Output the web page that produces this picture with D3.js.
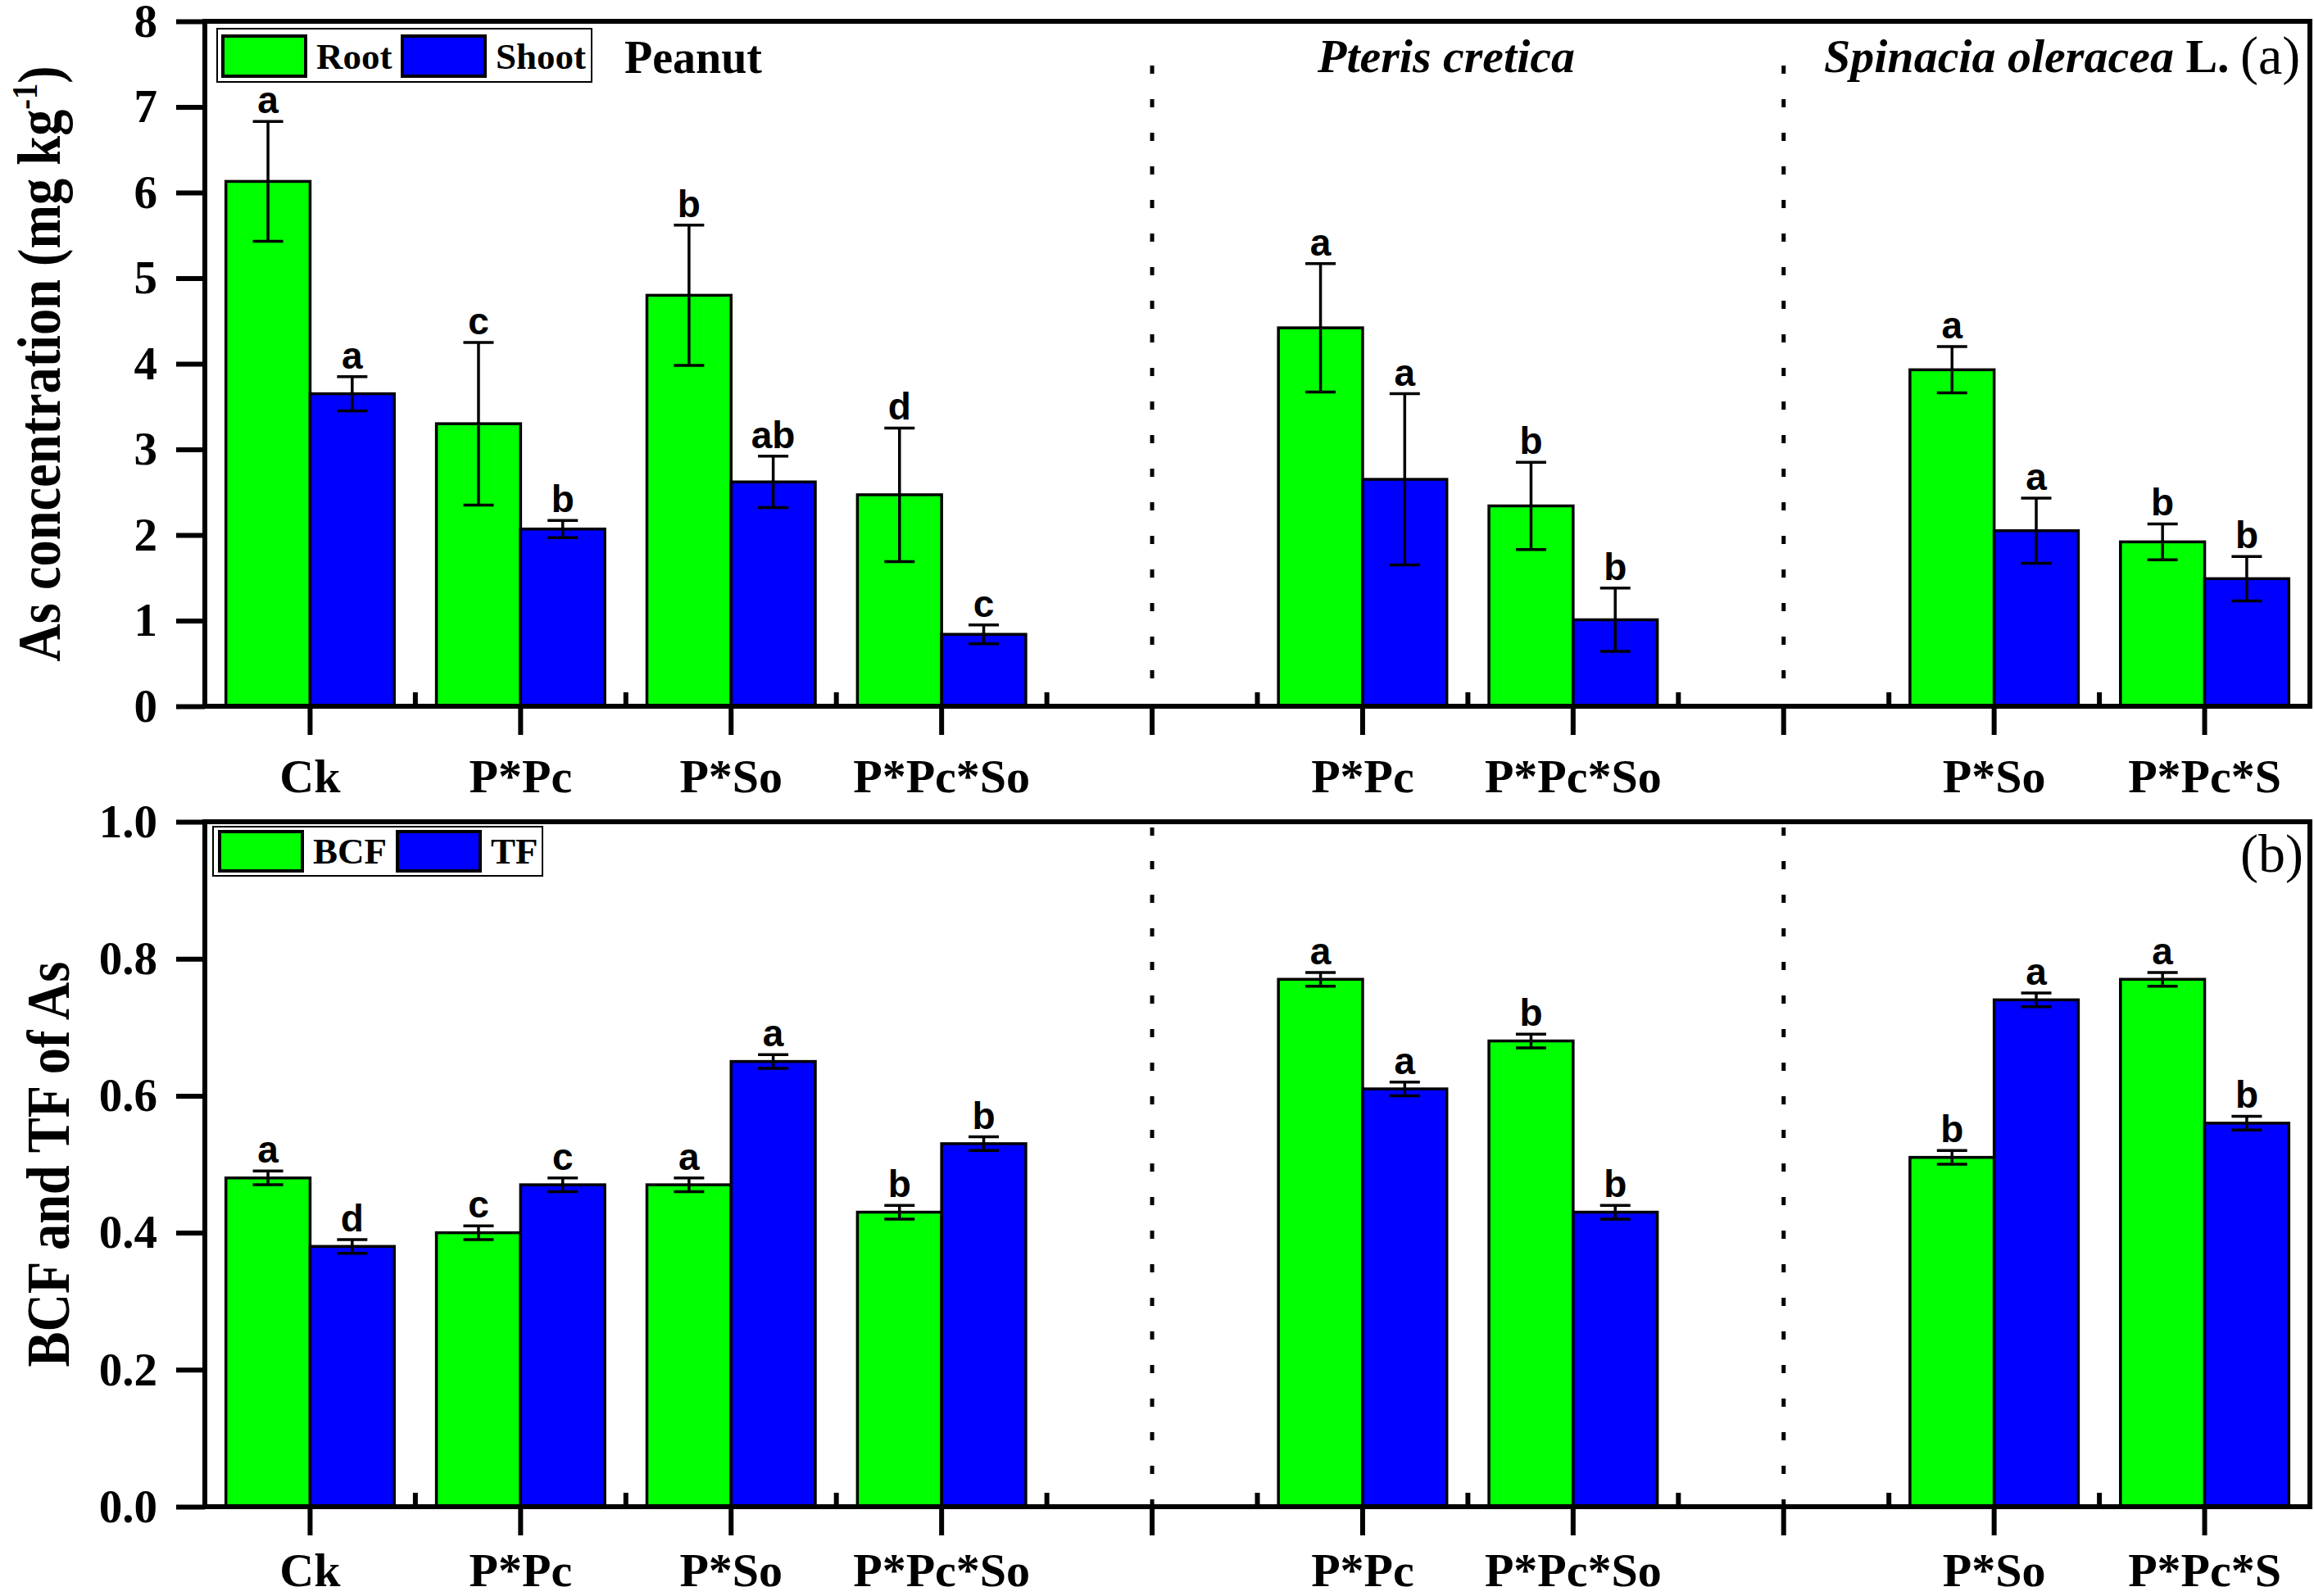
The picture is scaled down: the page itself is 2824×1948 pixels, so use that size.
<!DOCTYPE html>
<meta charset="utf-8">
<head>
  <title>As concentration, BCF and TF</title>
  <script src="https://cdn.jsdelivr.net/npm/d3@7"></script>
  <style>
    body { margin: 0; background: #fff; }
    text { font-family: "Liberation Serif", "Times New Roman", serif; font-weight: bold; fill: #000; }
    .sig { font-family: "Liberation Sans", Arial, sans-serif; font-size: 46px; }
    .plain { font-weight: normal; }
  </style>
</head>
<body>
<div id="chart"></div>
<script>
// x categories (blank slots hold the dotted dividers)
var xLabels = ["Ck", "P*Pc", "P*So", "P*Pc*So", "", "P*Pc", "P*Pc*So", "", "P*So", "P*Pc*S"];

// panel (a): As concentration
var rootVal   = [6.13, 3.30, 4.80, 2.47, null, 4.42, 2.34, null, 3.93, 1.92];
var rootErr   = [0.70, 0.95, 0.82, 0.78, null, 0.75, 0.51, null, 0.27, 0.21];
var rootSig   = ["a", "c", "b", "d", null, "a", "b", null, "a", "b"];
var shootVal  = [3.65, 2.07, 2.62, 0.84, null, 2.65, 1.01, null, 2.05, 1.49];
var shootErr  = [0.20, 0.10, 0.30, 0.11, null, 1.00, 0.37, null, 0.38, 0.26];
var shootSig  = ["a", "b", "ab", "c", null, "a", "b", null, "a", "b"];

// panel (b): BCF and TF
var bcfVal = [0.48, 0.40, 0.47, 0.43, null, 0.77, 0.68, null, 0.51, 0.77];
var bcfErr = [0.01, 0.01, 0.01, 0.01, null, 0.01, 0.01, null, 0.01, 0.01];
var bcfSig = ["a", "c", "a", "b", null, "a", "b", null, "b", "a"];
var tfVal  = [0.38, 0.47, 0.65, 0.53, null, 0.61, 0.43, null, 0.74, 0.56];
var tfErr  = [0.01, 0.01, 0.01, 0.01, null, 0.01, 0.01, null, 0.01, 0.01];
var tfSig  = ["d", "c", "a", "b", null, "a", "b", null, "a", "b"];

var ticksA = [0, 1, 2, 3, 4, 5, 6, 7, 8];
var ticksB = [0, 0.2, 0.4, 0.6, 0.8, 1.0];

var GREEN = "#00ff00", BLUE = "#0000ff";
var W = 2824, H = 1948;
var left = 250, right = 2819;

var svg = d3.select("#chart").append("svg")
    .attr("width", W).attr("height", H);

var x = d3.scaleBand().domain(d3.range(xLabels.length)).range([left, right]).paddingInner(0).paddingOuter(0);
var step = x.step();
var bw = 0.4 * step;

function drawPanel(p) {
  var y = d3.scaleLinear().domain(p.domain).range([p.bottom, p.top]);
  var g = svg.append("g");
  var idx = d3.range(xLabels.length).filter(function(i){ return p.a[i] != null; });

  // dotted dividers
  g.selectAll(".div").data(xLabels.map(function(d,i){ return i; }).filter(function(i){ return xLabels[i] === ""; }))
    .enter().append("line")
    .attr("x1", function(i){ return x(i) + step/2; })
    .attr("x2", function(i){ return x(i) + step/2; })
    .attr("y1", p.dotTop).attr("y2", p.bottom)
    .attr("stroke", "#000").attr("stroke-width", 5)
    .attr("stroke-dasharray", "10,31");

  var series = [
    {v: p.a, e: p.ae, s: p.as, fill: GREEN, off: -bw},
    {v: p.b, e: p.be, s: p.bs, fill: BLUE, off: 0}
  ];
  series.forEach(function(sr) {
    g.selectAll(null).data(idx).enter().append("rect")
      .attr("x", function(i){ return x(i) + step/2 + sr.off; })
      .attr("y", function(i){ return y(sr.v[i]); })
      .attr("width", bw)
      .attr("height", function(i){ return y(0) - y(sr.v[i]); })
      .attr("fill", sr.fill).attr("stroke", "#000").attr("stroke-width", 3.5);
  });
  series.forEach(function(sr) {
    var cx = function(i){ return x(i) + step/2 + sr.off + bw/2; };
    var eb = g.selectAll(null).data(idx).enter().append("g");
    eb.append("line")
      .attr("x1", cx).attr("x2", cx)
      .attr("y1", function(i){ return y(sr.v[i] - sr.e[i]); })
      .attr("y2", function(i){ return y(sr.v[i] + sr.e[i]); });
    eb.append("line")
      .attr("x1", function(i){ return cx(i) - 18.5; }).attr("x2", function(i){ return cx(i) + 18.5; })
      .attr("y1", function(i){ return y(sr.v[i] + sr.e[i]); })
      .attr("y2", function(i){ return y(sr.v[i] + sr.e[i]); });
    eb.append("line")
      .attr("x1", function(i){ return cx(i) - 18.5; }).attr("x2", function(i){ return cx(i) + 18.5; })
      .attr("y1", function(i){ return y(sr.v[i] - sr.e[i]); })
      .attr("y2", function(i){ return y(sr.v[i] - sr.e[i]); });
    eb.selectAll("line").attr("stroke", "#000").attr("stroke-width", 3.5);
    eb.append("text").attr("class", "sig")
      .attr("x", cx)
      .attr("y", function(i){ return y(sr.v[i] + sr.e[i]) - 10; })
      .attr("text-anchor", "middle")
      .text(function(i){ return sr.s[i]; });
  });

  // y axis
  var ya = g.append("g").attr("transform", "translate(" + left + ",0)")
    .call(d3.axisLeft(y).tickValues(p.ticks).tickFormat(p.fmt).tickSize(35).tickSizeOuter(0).tickPadding(23));
  ya.select(".domain").remove();
  ya.selectAll("line").attr("stroke", "#000").attr("stroke-width", 6);
  ya.selectAll("text").attr("font-size", 57).attr("font-family", "Liberation Serif").attr("font-weight", "bold");

  // x axis major ticks + labels
  var xa = g.append("g").attr("transform", "translate(0," + p.bottom + ")")
    .call(d3.axisBottom(x).tickFormat(function(i){ return xLabels[i]; }).tickSize(35).tickSizeOuter(0).tickPadding(p.labPad));
  xa.select(".domain").remove();
  xa.selectAll("line").attr("stroke", "#000").attr("stroke-width", 6);
  xa.selectAll("text").attr("font-size", 58).attr("font-family", "Liberation Serif").attr("font-weight", "bold");

  // minor inward ticks at category boundaries
  var minor = d3.range(1, xLabels.length).map(function(i){ return x(i); });
  g.selectAll(null).data(minor).enter().append("line")
    .attr("x1", function(d){ return d; }).attr("x2", function(d){ return d; })
    .attr("y1", p.bottom).attr("y2", p.bottom - 17)
    .attr("stroke", "#000").attr("stroke-width", 6);

  // frame
  g.append("rect").attr("x", left).attr("y", p.top)
    .attr("width", right - left).attr("height", p.bottom - p.top)
    .attr("fill", "none").attr("stroke", "#000").attr("stroke-width", 6);

  // legend
  var lg = g.append("g");
  lg.append("rect").attr("x", p.leg.x).attr("y", p.leg.y).attr("width", p.leg.w).attr("height", p.leg.h)
    .attr("fill", "#fff").attr("stroke", "#000").attr("stroke-width", 2);
  p.leg.items.forEach(function(it, k) {
    lg.append("rect").attr("x", it.sx).attr("y", p.leg.sy).attr("width", 101).attr("height", p.leg.sh)
      .attr("fill", k === 0 ? GREEN : BLUE).attr("stroke", "#000").attr("stroke-width", 4);
    lg.append("text").attr("x", it.sx + 114).attr("y", p.leg.ty).attr("font-size", 45).text(it.label);
  });

  // y title
  var t = g.append("text")
    .attr("transform", "translate(" + p.titleX + "," + (p.top + p.bottom) / 2 + ") rotate(-90) scale(0.87,1)")
    .attr("text-anchor", "middle").attr("font-size", 74);
  p.title(t);
  return y;
}

drawPanel({
  top: 26, bottom: 862, dotTop: 80, domain: [0, 8], ticks: ticksA, fmt: d3.format("d"), labPad: 29,
  a: rootVal, ae: rootErr, as: rootSig, b: shootVal, be: shootErr, bs: shootSig,
  leg: {x: 265, y: 35, w: 457, h: 65, sy: 44, sh: 49, ty: 84,
        items: [{sx: 272, label: "Root"}, {sx: 491, label: "Shoot"}]},
  titleX: 73,
  title: function(t) {
    t.append("tspan").text("As concentration (mg kg");
    t.append("tspan").attr("dy", -28).attr("font-size", 44).text("-1");
    t.append("tspan").attr("dy", 28).text(")");
  }
});

drawPanel({
  top: 1003, bottom: 1839, dotTop: 1010, domain: [0, 1], ticks: ticksB, fmt: d3.format(".1f"), labPad: 21,
  a: bcfVal, ae: bcfErr, as: bcfSig, b: tfVal, be: tfErr, bs: tfSig,
  leg: {x: 260, y: 1009, w: 402, h: 60, sy: 1015, sh: 48, ty: 1054,
        items: [{sx: 268, label: "BCF"}, {sx: 485, label: "TF"}]},
  titleX: 84,
  title: function(t) { t.text("BCF and TF of As"); }
});

// plant labels, panel (a)
svg.append("text").attr("x", 762).attr("y", 89).attr("font-size", 56).text("Peanut");
svg.append("text").attr("x", 1608).attr("y", 88).attr("font-size", 58).attr("font-style", "italic").text("Pteris cretica");
var sp = svg.append("text").attr("x", 2226).attr("y", 88).attr("font-size", 58);
sp.append("tspan").attr("font-style", "italic").text("Spinacia oleracea");
sp.append("tspan").text(" L.");
svg.append("text").attr("class", "plain").attr("x", 2734).attr("y", 90).attr("font-size", 66).text("(a)");
svg.append("text").attr("class", "plain").attr("x", 2734).attr("y", 1064).attr("font-size", 66).text("(b)");
</script>
</body>
